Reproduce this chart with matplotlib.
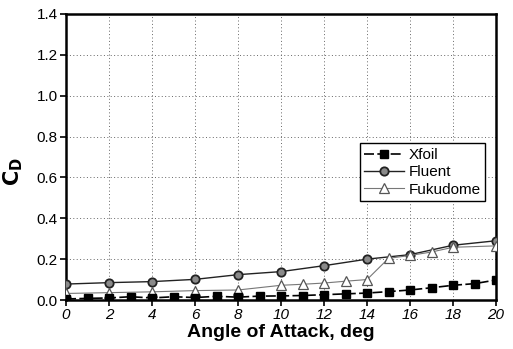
import matplotlib.pyplot as plt
import numpy as np

plt.rcParams['font.family'] = ['Liberation Sans', 'DejaVu Sans']

# drag coefficient vs angle of attack
aoa_xfoil = list(range(0, 21))
cd_xfoil = [0.005, 0.008, 0.010, 0.016, 0.010, 0.016, 0.012, 0.018, 0.014, 0.019, 0.020,
            0.022, 0.026, 0.030, 0.034, 0.041, 0.049, 0.060, 0.072, 0.080, 0.098]

aoa_fluent = [0, 2, 4, 6, 8, 10, 12, 14, 16, 18, 20]
cd_fluent = [0.078, 0.085, 0.090, 0.101, 0.124, 0.139, 0.168, 0.200, 0.222, 0.268, 0.290]

aoa_fuku = [0, 2, 4, 6, 8, 10, 11, 12, 13, 14, 15, 16, 17, 18, 20]
cd_fuku = [0.032, 0.036, 0.040, 0.046, 0.049, 0.072, 0.077, 0.083, 0.092, 0.100,
           0.204, 0.218, 0.235, 0.258, 0.265]

fig = plt.figure(figsize=(5.13, 3.49), dpi=100)
ax = fig.add_axes([0.1287, 0.1404, 0.8382, 0.8195])

ax.plot(aoa_xfoil, cd_xfoil, color='black', linestyle=(0, (6, 2)), linewidth=1.2,
        marker='s', markersize=5.5, markerfacecolor='black', markeredgecolor='black',
        label='Xfoil', zorder=4)
ax.plot(aoa_fluent, cd_fluent, color='#222222', linestyle='-', linewidth=1.0,
        marker='o', markersize=6, markerfacecolor='#8a8a8a', markeredgecolor='#222222',
        markeredgewidth=1.3, label='Fluent', zorder=3)
ax.plot(aoa_fuku, cd_fuku, color='#777777', linestyle='-', linewidth=0.8,
        marker='^', markersize=7, markerfacecolor='white', markeredgecolor='#555555',
        markeredgewidth=0.9, label='Fukudome', zorder=3.5)

ax.set_xlim(0, 20)
ax.set_ylim(0, 1.4)
ax.set_xticks(np.arange(0, 21, 2))
ax.set_yticks(np.arange(0, 1.41, 0.2))
ax.set_yticklabels([f'{v:.1f}' for v in np.arange(0, 1.41, 0.2)])
ax.grid(True, linestyle=(0, (1, 2.5)), color='#666666', linewidth=0.7)

for lbl in ax.get_xticklabels():
    lbl.set_fontstyle('italic')
ax.tick_params(axis='both', direction='out', length=4, width=1.2, labelsize=11,
               pad=2, colors='black')
for s in ax.spines.values():
    s.set_linewidth(1.8)

ax.set_xlabel('Angle of Attack, deg', fontsize=14, fontweight='bold', labelpad=1)
ax.set_ylabel(r'$\mathbf{C_D}$', fontsize=15, labelpad=4)
ax.yaxis.set_label_coords(-0.095, 0.45)

leg = ax.legend(loc='lower left', bbox_to_anchor=(13.3 / 20, 0.446 / 1.4),
                fontsize=11, numpoints=1, handlelength=2.6, handletextpad=0.3,
                labelspacing=0.22, borderpad=0.3, fancybox=False, framealpha=1,
                edgecolor='black')
leg.get_frame().set_linewidth(1.0)

plt.savefig('out.png', dpi=100)
